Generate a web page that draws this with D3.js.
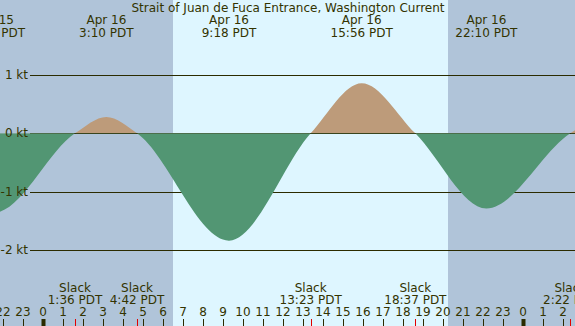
<!DOCTYPE html>
<html>
<head>
<meta charset="utf-8">
<script src="https://cdn.jsdelivr.net/npm/d3@7"></script>
<style>
	body {margin: 0; background: #fff}
	svg {display: block; font-family: "DejaVu Sans", sans-serif}
	text {fill: #333300}
</style>
</head>
<body>
<svg id="chart" width="575" height="326"></svg>
<script>
/*** Data ***/
const title = "Strait of Juan de Fuca Entrance, Washington Current"
// max flood / ebb events (hours from Apr 16 00:00 PDT), value in knots
const maxLabels = ["Apr 15|21:33 PDT", "Apr 16|3:10 PDT", "Apr 16|9:18 PDT", "Apr 16|15:56 PDT", "Apr 16|22:10 PDT", "Apr 17|4:00 PDT"]
const maxHours  = [-2.45, 3.167, 9.3, 15.933, 22.167, 28.0]
const maxValues = [-1.36, 0.28, -1.84, 0.86, -1.29, 0.30]
// slack water events
const slackLabels = ["18:20 PDT", "1:36 PDT", "4:42 PDT", "13:23 PDT", "18:37 PDT", "2:22 PDT", "6:10 PDT"]
const slackHours  = [-5.667, 1.6, 4.7, 13.383, 18.617, 26.367, 30.167]
// daylight
const sunrise = [6.5]
const sunset  = [20.25]
// axes
const ktTicks = [1, 0, -1, -2]
const hourTicks = [-2, -1, 0, 1, 2, 3, 4, 5, 6, 7, 8, 9, 10, 11, 12, 13, 14, 15, 16, 17, 18, 19, 20, 21, 22, 23, 24, 25, 26]
const hourLabels = ["22", "23", "0", "1", "2", "3", "4", "5", "6", "7", "8", "9", "10", "11", "12", "13", "14", "15", "16", "17", "18", "19", "20", "21", "22", "23", "0", "1", "2"]

/*** Chart ***/
const W = 575, H = 326
const m = d3.select("#chart")
const x = d3.scaleLinear().domain([-2.15, 26.6]).range([0, W])
const y = d3.scaleLinear().domain([1, -2]).range([75, 250])

// background: night then day
m.append("rect").attr("width", W).attr("height", H).attr("fill", "#b0c4d9")
m.append("g").selectAll("rect")
	.data(sunrise)
	.enter().append("rect")
	.attr("x", (d) => x(d))
	.attr("width", (d, i) => x(sunset[i]) - x(d))
	.attr("height", H)
	.attr("fill", "#def6ff")

// grid lines
m.append("g").selectAll("line")
	.data(ktTicks)
	.enter().append("line")
	.attr("x1", 30).attr("x2", W)
	.attr("y1", (d) => Math.round(y(d)) + .5).attr("y2", (d) => Math.round(y(d)) + .5)
	.attr("stroke", "#2b2b00")

// current curve through slack and max points
var pts = maxHours.map((h, i) => ({h: h, v: maxValues[i]}))
	.concat(slackHours.map((h) => ({h: h, v: 0})))
	.sort((a, b) => a.h - b.h)
var area = d3.area()
	.curve(d3.curveMonotoneX)
	.x((d) => x(d.h))
	.y0(y(0))
	.y1((d) => y(d.v))

var defs = m.append("defs")
defs.append("clipPath").attr("id", "up")
	.append("rect").attr("x", 0).attr("y", 0).attr("width", W).attr("height", y(0))
defs.append("clipPath").attr("id", "dn")
	.append("rect").attr("x", 0).attr("y", y(0)).attr("width", W).attr("height", H - y(0))

m.append("path").datum(pts).attr("d", area).attr("fill", "#bd9b7a").attr("clip-path", "url(#up)")
m.append("path").datum(pts).attr("d", area).attr("fill", "#529673").attr("clip-path", "url(#dn)")

// kt labels
m.append("g").selectAll("text")
	.data(ktTicks)
	.enter().append("text")
	.attr("x", 28).attr("y", (d) => y(d) + 4)
	.attr("text-anchor", "end")
	.attr("font-size", 12)
	.text((d) => d + " kt")

// title
m.append("text")
	.attr("x", 288).attr("y", 12)
	.attr("text-anchor", "middle")
	.attr("font-size", 12)
	.text(title)

// max labels
var ml = m.append("g").selectAll("text")
	.data(maxLabels)
	.enter().append("text")
	.attr("text-anchor", "middle")
	.attr("font-size", 12)
	.attr("transform", (d, i) => "translate(" + x(maxHours[i]) + ",0)")
ml.append("tspan").attr("x", 0).attr("y", 24).text((d) => d.split("|")[0])
ml.append("tspan").attr("x", 0).attr("y", 37).text((d) => d.split("|")[1])

// slack labels
var sl = m.append("g").selectAll("text")
	.data(slackLabels)
	.enter().append("text")
	.attr("text-anchor", "middle")
	.attr("font-size", 12)
	.attr("transform", (d, i) => "translate(" + x(slackHours[i]) + ",0)")
sl.append("tspan").attr("x", 0).attr("y", 292).text("Slack")
sl.append("tspan").attr("x", 0).attr("y", 304).text((d) => d)

// hour axis
var ha = m.append("g")
ha.selectAll("line")
	.data(hourTicks)
	.enter().append("line")
	.attr("x1", (d) => Math.round(x(d)) + .5).attr("x2", (d) => Math.round(x(d)) + .5)
	.attr("y1", 319).attr("y2", H)
	.attr("stroke", "#2b2b00")
	.attr("stroke-width", (d, i) => hourLabels[i] == "0" ? 4 : 1)
ha.selectAll("text")
	.data(hourTicks)
	.enter().append("text")
	.attr("x", (d) => x(d)).attr("y", 316)
	.attr("text-anchor", "middle")
	.attr("font-size", 12)
	.text((d, i) => hourLabels[i])
m.append("g").selectAll("line")
	.data(slackHours)
	.enter().append("line")
	.attr("x1", (d) => Math.round(x(d)) + .5).attr("x2", (d) => Math.round(x(d)) + .5)
	.attr("y1", 319).attr("y2", H)
	.attr("stroke", "#e00000")
</script>
</body>
</html>
